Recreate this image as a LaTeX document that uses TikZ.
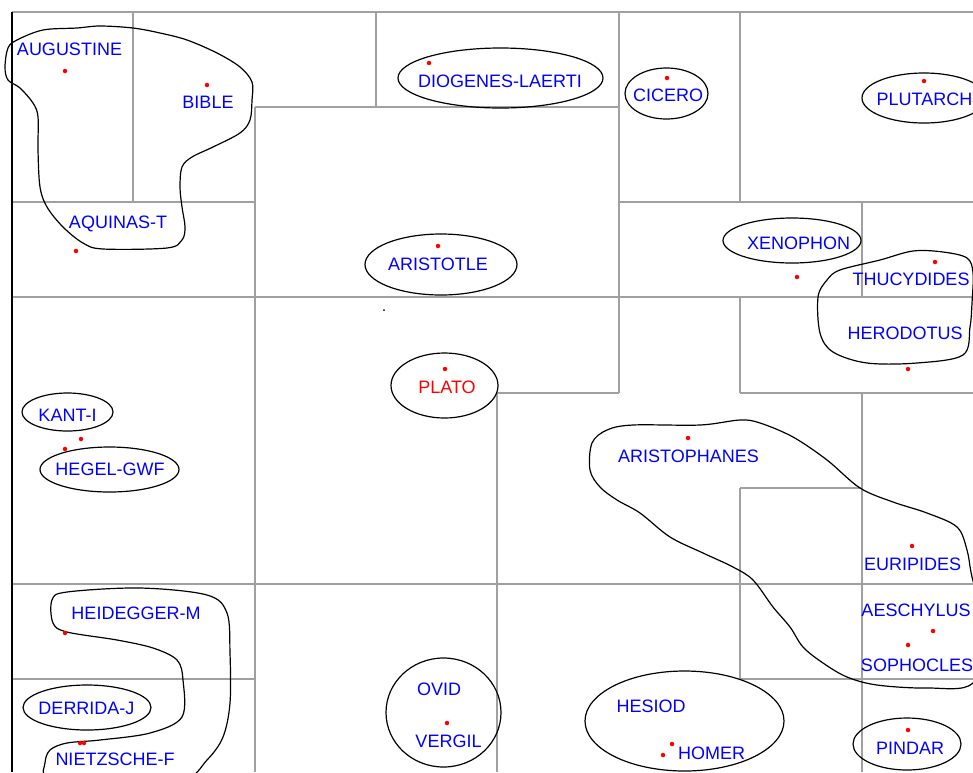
\documentclass[tikz,border=0pt]{standalone}
\usepackage{fontspec}
\setmainfont{Liberation Sans}
\usetikzlibrary{shapes.geometric}
\definecolor{gridgray}{RGB}{160,160,160}
\definecolor{labelblue}{RGB}{0,0,255}
\definecolor{dotred}{RGB}{255,0,0}

\begin{document}
\begin{tikzpicture}[x=1pt,y=-1pt,
  gridline/.style={draw=gridgray, line width=1.3pt},
  leftedge/.style={draw=black, line width=2pt},
  thinker/.style={text=labelblue, font=\fontsize{18}{20}\selectfont,
    inner sep=0pt, text height=13pt, text depth=0pt},
  ring/.style={ellipse, draw=black, line width=1.2pt, inner sep=0pt},
  hull/.style={draw=black, line width=1.2pt},
  spot/.style={circle, fill=dotred, inner sep=0pt, minimum size=4.5pt}
]
\useasboundingbox (0,0) rectangle (973,772);
\clip (0,0) rectangle (973,772);
\fill[white] (0,0) rectangle (973,772);

% cell partition
\draw[gridline] (12,12) -- (973,12);
\draw[gridline] (133,12) -- (133,202);
\draw[gridline] (12,202) -- (255,202);
\draw[gridline] (255,107) -- (255,772);
\draw[gridline] (255,107) -- (619,107);
\draw[gridline] (376,12) -- (376,107);
\draw[gridline] (619,12) -- (619,393);
\draw[gridline] (497,393) -- (619,393);
\draw[gridline] (497,393) -- (497,772);
\draw[gridline] (740,12) -- (740,202);
\draw[gridline] (619,202) -- (973,202);
\draw[gridline] (862,202) -- (862,297);
\draw[gridline] (12,297) -- (973,297);
\draw[gridline] (740,297) -- (740,393);
\draw[gridline] (740,393) -- (973,393);
\draw[gridline] (862,393) -- (862,772);
\draw[gridline] (740,488) -- (862,488);
\draw[gridline] (740,488) -- (740,679);
\draw[gridline] (740,679) -- (973,679);
\draw[gridline] (12,584) -- (973,584);
\draw[gridline] (12,679) -- (255,679);
\draw[leftedge] (12,12) -- (12,772);

% group outlines
\draw[hull] plot[smooth cycle, tension=0.55] coordinates {
  (8,48) (5,67) (8,80) (20,88) (33,103) (38,117) (38,150) (40,187)
  (47,207) (63,227) (83,243) (103,249) (167,248) (182,240) (185,227)
  (182,207) (180,187) (182,167) (192,157) (213,147) (240,133) (250,120)
  (252,100) (252,82) (240,67) (217,53) (187,40) (160,33) (133,28)
  (100,26) (77,28) (43,30) (17,40)};
\draw[hull] plot[smooth cycle, tension=0.55] coordinates {
  (818,297) (820,333) (833,352) (867,363) (917,363) (963,355) (970,327)
  (972,303) (973,273) (967,258) (943,252) (913,251) (880,260) (840,270)
  (827,280)};
\draw[hull] plot[smooth cycle, tension=0.55] coordinates {
  (590,470) (592,443) (607,430) (633,425) (700,425) (740,420) (760,423)
  (793,437) (827,460) (860,488) (893,502) (927,513) (957,527) (967,550)
  (972,577) (985,630) (973,683) (927,688) (877,685) (847,677) (823,663)
  (803,647) (790,627) (773,607) (753,580) (733,567) (703,553) (670,537)
  (640,513) (617,500) (600,487)};
\draw[hull] plot[smooth cycle, tension=0.55] coordinates {
  (52,600) (67,592) (140,588) (207,595) (227,613) (230,653) (230,703)
  (223,737) (207,760) (180,782) (100,785) (48,778) (45,763) (50,750)
  (67,743) (100,740) (150,733) (182,717) (183,680) (177,660) (153,648)
  (117,640) (67,632) (53,623)};

% single and paired outlines
\node[ring, minimum width=205pt, minimum height=60pt]  (e-diogenes)  at (500.5,78) {};
\node[ring, minimum width=83pt,  minimum height=51pt]  (e-cicero)    at (666.5,93.5) {};
\node[ring, minimum width=124pt, minimum height=50pt]  (e-plutarch)  at (924,98) {};
\node[ring, minimum width=138pt, minimum height=45pt]  (e-xenophon)  at (792,240.5) {};
\node[ring, minimum width=152pt, minimum height=61pt]  (e-aristotle) at (441,264.5) {};
\node[ring, minimum width=107pt, minimum height=65pt]  (e-plato)     at (444.5,385.5) {};
\node[ring, minimum width=91pt,  minimum height=38pt]  (e-kant)      at (67.5,412) {};
\node[ring, minimum width=139pt, minimum height=45pt]  (e-hegel)     at (109.5,469.5) {};
\node[ring, minimum width=128pt, minimum height=45pt]  (e-derrida)   at (87,707.5) {};
\node[ring, minimum width=115pt, minimum height=109pt] (e-latin)     at (443.5,712.5) {};
\node[ring, minimum width=199pt, minimum height=100pt] (e-epic)      at (684.5,721) {};
\node[ring, minimum width=108pt, minimum height=52pt]  (e-pindar)    at (907,744) {};

% position markers
\foreach \px/\py [count=\i] in {65/71, 207/85, 76/251, 429/63, 667/78, 924/81,
  797/277, 935/262, 908/369, 438/246, 445/369, 81/439, 65/449, 65/633,
  80/743, 84/743, 447/723, 663/755, 672/744, 688/438, 912/546, 933/631,
  908/645, 908/730}
  \node[spot] (dot\i) at (\px,\py) {};
\node[circle, fill=black, inner sep=0pt, minimum size=2pt] (dot0) at (384,310) {};

% names
\node[thinker] (augustine)    at (69.5,48.5)  {AUGUSTINE};
\node[thinker] (bible)        at (208,102)    {BIBLE};
\node[thinker] (aquinas)      at (118,222)    {AQUINAS-T};
\node[thinker] (diogenes)     at (500,80.5)   {DIOGENES-LAERTI};
\node[thinker] (cicero)       at (668,95)     {CICERO};
\node[thinker] (plutarch)     at (924.5,99)   {PLUTARCH};
\node[thinker] (xenophon)     at (798.5,242.5){XENOPHON};
\node[thinker] (thucydides)   at (911,279)    {THUCYDIDES};
\node[thinker] (herodotus)    at (905,332.5)  {HERODOTUS};
\node[thinker] (aristotle)    at (438,263.5)  {ARISTOTLE};
\node[thinker, text=dotred] (plato) at (447,386.5) {PLATO};
\node[thinker] (kant)         at (67.5,414.5) {KANT-I};
\node[thinker] (hegel)        at (110,468.5)  {HEGEL-GWF};
\node[thinker] (heidegger)    at (136,613)    {HEIDEGGER-M};
\node[thinker] (derrida)      at (86.5,707.5) {DERRIDA-J};
\node[thinker] (nietzsche)    at (115,758.5)  {NIETZSCHE-F};
\node[thinker] (ovid)         at (439,689)    {OVID};
\node[thinker] (vergil)       at (448.5,740.5){VERGIL};
\node[thinker] (hesiod)       at (651,705.5)  {HESIOD};
\node[thinker] (homer)        at (711.5,752.5){HOMER};
\node[thinker] (aristophanes) at (688.5,455.5){ARISTOPHANES};
\node[thinker] (euripides)    at (912.5,564)  {EURIPIDES};
\node[thinker] (aeschylus)    at (916,609.5)  {AESCHYLUS};
\node[thinker] (sophocles)    at (917,664.5)  {SOPHOCLES};
\node[thinker] (pindar)       at (910,747.5)  {PINDAR};
\end{tikzpicture}
\end{document}
